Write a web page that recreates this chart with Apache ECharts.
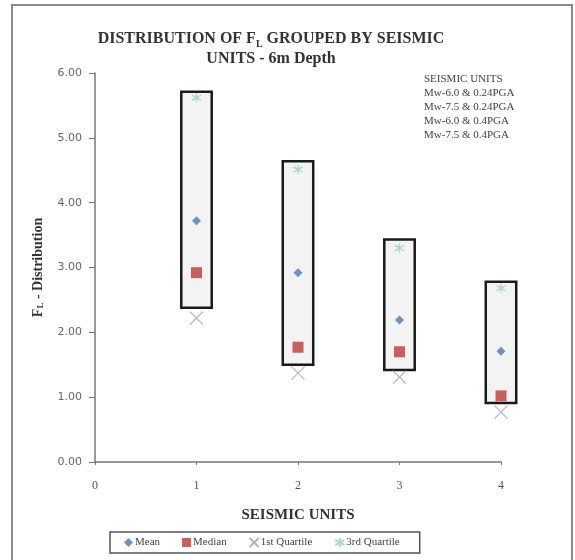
<!DOCTYPE html>
<html><head><meta charset="utf-8">
<script src="https://cdn.jsdelivr.net/npm/echarts@6/dist/echarts.min.js"></script>
<style>html,body{margin:0;padding:0;background:#fff}#c{width:575px;height:560px}</style>
</head><body><div id="c"></div>
<script>
const units = [1, 2, 3, 4];
const boxLow  = [2.38, 1.50, 1.42, 0.91];
const boxHigh = [5.71, 4.64, 3.43, 2.78];
const meanVals   = [3.72, 2.92, 2.19, 1.71];
const medianVals = [2.92, 1.77, 1.70, 1.02];
const q1Vals     = [2.22, 1.37, 1.31, 0.77];
const q3Vals     = [5.62, 4.51, 3.30, 2.68];
const unitLabels = ['SEISMIC UNITS', 'Mw-6.0 & 0.24PGA', 'Mw-7.5 & 0.24PGA', 'Mw-6.0 & 0.4PGA', 'Mw-7.5 & 0.4PGA'];

const serif = '"Liberation Serif", "DejaVu Serif", serif';
const pair = (vals) => units.map((u, i) => [u, vals[i]]);

const chart = echarts.init(document.getElementById('c'));
chart.setOption({
  backgroundColor: '#fff',
  animation: false,
  graphic: [
    { type: 'rect', shape: { x: 12, y: 5, width: 560, height: 565 }, style: { fill: 'none', stroke: '#8a8a8a', lineWidth: 2 }, z: -1 },
    { type: 'text', left: 424, top: 72, style: { text: unitLabels.join('\n'), font: '11px ' + serif, fill: '#444', lineHeight: 14 } }
  ],
  title: {
    left: 266, top: 24, textAlign: 'center',
    text: '{a|DISTRIBUTION OF F}{s|L}{a| GROUPED BY SEISMIC}\n{a|UNITS - 6m Depth}',
    textStyle: {
      rich: {
        a: { fontFamily: serif, fontWeight: 'bold', fontSize: 16, color: '#333', lineHeight: 20 },
        s: { fontFamily: serif, fontWeight: 'bold', fontSize: 10, color: '#333', verticalAlign: 'bottom', lineHeight: 20 }
      }
    }
  },
  legend: {
    bottom: 7, left: 110, itemGap: 22, itemWidth: 9, itemHeight: 9,
    borderColor: '#555', borderWidth: 1.5, padding: [5, 20, 5, 14],
    textStyle: { fontFamily: serif, fontSize: 11, color: '#444', padding: [0, 0, 0, -3] },
    data: ['Mean', 'Median', '1st Quartile', '3rd Quartile']
  },
  grid: { left: 95, top: 73, width: 406, height: 389 },
  xAxis: {
    type: 'value', min: 0, max: 4, interval: 1,
    name: 'SEISMIC UNITS', nameLocation: 'middle', nameGap: 46,
    nameTextStyle: { fontFamily: serif, fontWeight: 'bold', fontSize: 15, color: '#333' },
    axisLine: { lineStyle: { color: '#777', width: 1.5 } },
    axisTick: { show: true, length: 3, inside: false, lineStyle: { color: '#777' } },
    axisLabel: { fontFamily: serif, fontSize: 12, color: '#555', margin: 18 },
    splitLine: { show: false }
  },
  yAxis: {
    type: 'value', min: 0, max: 6, interval: 1,
    name: '{a|F}{s|L}{a| - Distribution}', nameLocation: 'middle', nameGap: 50, nameRotate: 90,
    nameTextStyle: {
      rich: {
        a: { fontFamily: serif, fontWeight: 'bold', fontSize: 14, color: '#333' },
        s: { fontFamily: serif, fontWeight: 'bold', fontSize: 9, color: '#333', verticalAlign: 'bottom' }
      }
    },
    axisLine: { show: true, lineStyle: { color: '#777', width: 1.5 } },
    axisTick: { show: true, length: 6, lineStyle: { color: '#777' } },
    axisLabel: { fontFamily: '"DejaVu Sans", sans-serif', fontSize: 11, color: '#666', margin: 13, formatter: v => v.toFixed(2) },
    splitLine: { show: false }
  },
  series: [
    {
      type: 'custom', name: 'box', silent: true, z: 1,
      data: units.map((u, i) => [u, boxLow[i], boxHigh[i]]),
      renderItem: function (params, api) {
        const lo = api.coord([api.value(0), api.value(1)]);
        const hi = api.coord([api.value(0), api.value(2)]);
        const w = api.size([0.3, 0])[0];
        return { type: 'rect', shape: { x: lo[0] - w / 2, y: hi[1], width: w, height: lo[1] - hi[1] },
                 style: { fill: '#f3f3f3', stroke: '#1a1a1a', lineWidth: 2.5 } };
      }
    },
    { type: 'scatter', name: 'Mean', z: 3, symbol: 'diamond', symbolSize: 9, data: pair(meanVals), itemStyle: { color: '#4f81bd', opacity: 0.85 } },
    { type: 'scatter', name: 'Median', z: 3, symbol: 'rect', symbolSize: 11, data: pair(medianVals), itemStyle: { color: '#c0504d', opacity: 0.9 } },
    { type: 'scatter', name: '1st Quartile', z: 3, symbol: 'path://M0,0L10,10M10,0L0,10', symbolSize: 13, data: pair(q1Vals),
      itemStyle: { color: 'rgba(0,0,0,0)', borderColor: '#a0a0a0', borderWidth: 1.2 } },
    { type: 'scatter', name: '3rd Quartile', z: 3, symbol: 'path://M5,0L5,10M0,2L10,8M0,8L10,2', symbolSize: 9, data: pair(q3Vals),
      itemStyle: { color: 'rgba(0,0,0,0)', borderColor: '#8fcfc4', borderWidth: 1.3 } }
  ]
});
</script></body></html>
